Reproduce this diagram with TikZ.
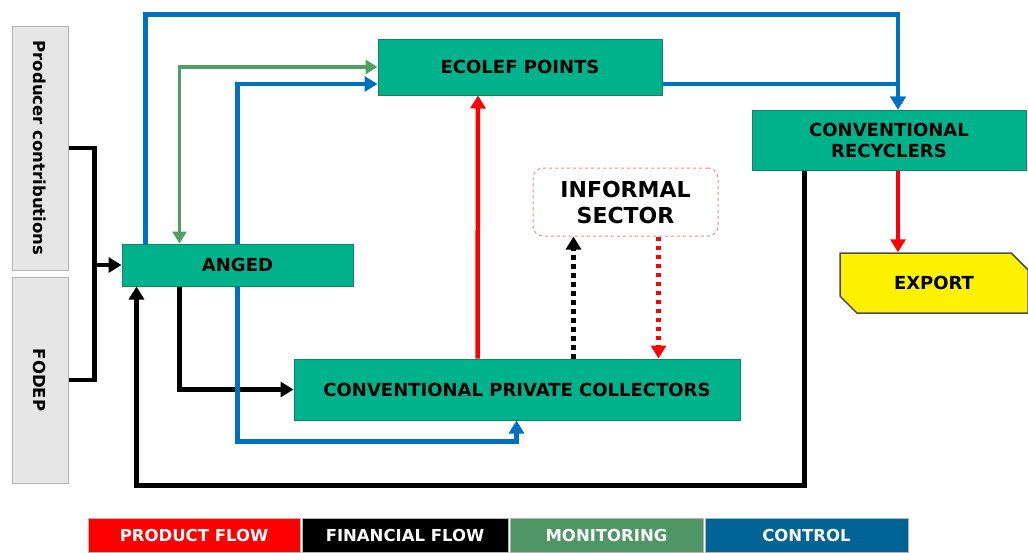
\documentclass[tikz,border=0pt]{standalone}
\usepackage{fontspec}
\setmainfont{DejaVu Sans}
\usetikzlibrary{arrows.meta, shapes.misc}

\definecolor{boxgreen}{RGB}{0,178,140}
\definecolor{boxedge}{RGB}{20,130,100}
\definecolor{ctlblue}{RGB}{0,112,192}
\definecolor{monline}{RGB}{80,160,100}
\definecolor{monleg}{RGB}{78,150,100}
\definecolor{ctlleg}{RGB}{0,100,150}
\definecolor{sidegray}{RGB}{230,230,230}
\definecolor{sideedge}{RGB}{180,180,180}
\definecolor{infedge}{RGB}{235,140,140}

\begin{document}
\begin{tikzpicture}[x=1pt, y=-1pt,
    box/.style={draw=boxedge, fill=boxgreen, line width=1pt, inner sep=0pt, align=center,
        font=\bfseries\fontsize{18}{21}\selectfont},
    side/.style={draw=sideedge, fill=sidegray, line width=1pt, inner sep=0pt,
        font=\bfseries\fontsize{16.5}{19}\selectfont},
    legend/.style={draw=sideedge, text=white, line width=1pt, inner sep=0pt,
        minimum height=34pt, font=\bfseries\fontsize{16.5}{19}\selectfont},
    tip/.style={-{Triangle[length=13pt, width=15pt]}},
    fin/.style={line width=4.5pt, black},
    ctl/.style={line width=4.5pt, ctlblue},
    mon/.style={line width=3.5pt, monline},
    prd/.style={line width=4.5pt, red}]
    \useasboundingbox (0,0) rectangle (1028,552);

    % side boxes
    \node[side, minimum width=56pt, minimum height=244pt] (prod) at (40,148) {\rotatebox{-90}{Producer contributions}};
    \node[side, minimum width=56pt, minimum height=206pt] (fodep) at (40,380) {\rotatebox{-90}{FODEP}};

    % actors
    \node[box, minimum width=231pt, minimum height=42pt] (anged) at (237.5,265) {ANGED};
    \node[box, minimum width=284pt, minimum height=56pt] (ecolef) at (520,67) {ECOLEF POINTS};
    \node[box, minimum width=274pt, minimum height=60pt] (rec) at (889,140) {CONVENTIONAL\\RECYCLERS};
    \node[box, minimum width=446pt, minimum height=61pt] (cpc) at (517,389.5) {CONVENTIONAL PRIVATE COLLECTORS};
    \node[draw=infedge, dashed, fill=white, rounded corners=10pt, line width=1pt, align=center,
        minimum width=185pt, minimum height=68pt, font=\bfseries\fontsize{22}{26}\selectfont] (inf) at (625.5,202) {INFORMAL\\SECTOR};
    \node[chamfered rectangle, chamfered rectangle corners={north east, south west},
        chamfered rectangle xsep=10pt, chamfered rectangle ysep=10pt,
        draw=black!70, fill=yellow, line width=1.5pt, inner sep=0pt, minimum width=188pt, minimum height=60pt,
        font=\bfseries\fontsize{18}{21}\selectfont] (export) at (934,283) {EXPORT};

    % financial flow
    \draw[fin, tip] (prod.east) -| ([xshift=-27pt]anged.west) -- (anged.west);
    \draw[fin] (fodep.east) -| ([xshift=-27pt]anged.west);
    \draw[fin, tip] ([xshift=58pt]anged.south west) |- (cpc.west);
    \draw[fin, tip] ([xshift=53pt]rec.south west) -- ++(0,315) -| ([xshift=15pt]anged.south west);
    \draw[fin, tip, dash pattern=on 4.5pt off 4.5pt] ([xshift=280pt]cpc.north west) -- ([xshift=41pt]inf.south west);

    % control
    \draw[ctl, tip] ([xshift=24pt]anged.north west) -- ++(0,-229) -| ([xshift=9pt]rec.north);
    \draw[ctl, tip] ([yshift=-17pt]ecolef.east) -| ([xshift=9pt]rec.north);
    \draw[ctl, tip] ([xshift=116pt]anged.north west) |- ([yshift=-17pt]ecolef.west);
    \draw[ctl, tip] ([xshift=116pt]anged.south west) -- ++(0,155) -| ([xshift=223pt]cpc.south west);

    % monitoring
    \draw[mon, {Triangle[length=12pt, width=14pt]}-{Triangle[length=12pt, width=14pt]}] ([xshift=58pt]anged.north west) |- (ecolef.west);

    % product flow
    \draw[prd, tip] ([xshift=184pt]cpc.north west) -- ([xshift=-42pt]ecolef.south);
    \draw[prd, tip, dash pattern=on 4.5pt off 4.5pt] ([xshift=126pt]inf.south west) -- ([xshift=365pt]cpc.north west);
    \draw[prd, tip] ([xshift=9pt]rec.south) -- ([xshift=-36pt]export.north);

    % legend
    \node[legend, fill=red, minimum width=212pt] (lprod) at (194,535) {PRODUCT FLOW};
    \node[legend, fill=black, minimum width=206pt] (lfin) at (405,535) {FINANCIAL FLOW};
    \node[legend, fill=monleg, minimum width=193pt] (lmon) at (606.5,535) {MONITORING};
    \node[legend, fill=ctlleg, minimum width=203pt] (lctl) at (806.5,535) {CONTROL};
\end{tikzpicture}
\end{document}
